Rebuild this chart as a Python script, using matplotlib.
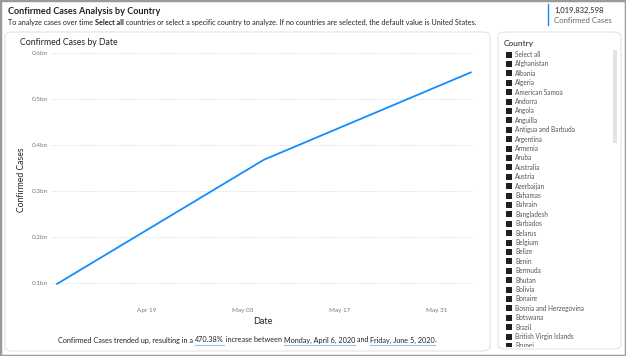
import matplotlib
matplotlib.use("Agg")
import matplotlib.pyplot as plt
import matplotlib.dates as mdates
import numpy as np
from matplotlib.patches import FancyBboxPatch, Rectangle
from matplotlib.lines import Line2D

plt.rcParams["font.family"] = ["Lato", "DejaVu Sans"]

# data
dates = np.array(["2020-04-06", "2020-05-06", "2020-06-05"], dtype="datetime64[D]")
cases_bn = [0.0978, 0.368, 0.558]
y_ticks = [0.1, 0.2, 0.3, 0.4, 0.5, 0.6]
x_ticks = np.array(["2020-04-19", "2020-05-03", "2020-05-17", "2020-05-31"], dtype="datetime64[D]")
total_cases = "1,019,832,598"
countries = [
    "Select all", "Afghanistan", "Albania", "Algeria", "American Samoa", "Andorra",
    "Angola", "Anguilla", "Antigua and Barbuda", "Argentina", "Armenia", "Aruba",
    "Australia", "Austria", "Azerbaijan", "Bahamas", "Bahrain", "Bangladesh",
    "Barbados", "Belarus", "Belgium", "Belize", "Benin", "Bermuda", "Bhutan",
    "Bolivia", "Bonaire", "Bosnia and Herzegovina", "Botswana", "Brazil",
    "British Virgin Islands", "Brunei",
]
pct_increase = 470.38

W, H = 626, 356
BLUE = "#118DFF"


def fx(x):
    return x / W


def fy(y):
    return 1 - y / H


fig = plt.figure(figsize=(W / 100, H / 100), dpi=100)
fig.patch.set_facecolor("white")

# outer frame
fig.add_artist(Rectangle((0, 0), 1, 1, transform=fig.transFigure, fill=False,
                         edgecolor="#9a9a9a", linewidth=2.5, zorder=-5))


def card(x0, y0, x1, y1):
    fig.add_artist(FancyBboxPatch((fx(x0), fy(y1)), fx(x1) - fx(x0), fy(y0) - fy(y1),
                                  boxstyle="round,pad=0,rounding_size=0.012",
                                  transform=fig.transFigure, facecolor="white",
                                  edgecolor="#e4e4e4", linewidth=0.8, zorder=-5))


card(5, 32, 490, 351)
card(498, 32, 621, 349)

renderer = fig.canvas.get_renderer()


def rich_text(x, y, parts, size, color, underline_color=None):
    # draw a row of text pieces one after another, returns end x in pixels
    cur = x
    for txt, weight, under in parts:
        t = fig.text(fx(cur), fy(y), txt, fontsize=size, color=color,
                     fontweight=weight, va="center", ha="left")
        bb = t.get_window_extent(renderer)
        if under:
            fig.add_artist(Line2D([fx(cur), fx(cur + bb.width)], [fy(y + 5), fy(y + 5)],
                                  transform=fig.transFigure, color=underline_color,
                                  linewidth=0.8))
        cur += bb.width
    return cur


# header
fig.text(fx(8), fy(12), "Confirmed Cases Analysis by Country", fontsize=6.6,
         fontweight="bold", color="#252423", va="center")
rich_text(8, 22.5, [("To analyze cases over time ", "normal", False),
                    ("Select all", "bold", False),
                    (" countries or select a specific country to analyze. If no countries are "
                     "selected, the default value is United States.", "normal", False)],
          5.25, "#252423")

# KPI
fig.add_artist(Line2D([fx(548), fx(548)], [fy(4), fy(24.5)], transform=fig.transFigure,
                      color=BLUE, linewidth=1.0))
fig.text(fx(554), fy(10.5), total_cases, fontsize=5.5, color="#252423", va="center")
fig.text(fx(554), fy(20.5), "Confirmed Cases", fontsize=5.6, color="#666666", va="center")

# line chart
fig.text(fx(20), fy(42.5), "Confirmed Cases by Date", fontsize=6.3, color="#252423", va="center")
ax = fig.add_axes([fx(52), fy(300), fx(473) - fx(52), fy(53) - fy(300)])
ax.plot(dates, cases_bn, color=BLUE, linewidth=1.3, solid_capstyle="round")
ax.set_xlim(dates[0] - np.timedelta64(17, "h"), dates[-1] + np.timedelta64(7, "h"))
ax.set_ylim(0.063, 0.6)
ax.set_yticks(y_ticks)
ax.set_yticklabels([f"{v:.1f}bn" for v in y_ticks])
ax.set_xticks(x_ticks)
ax.xaxis.set_major_formatter(mdates.DateFormatter("%b %d"))
ax.grid(axis="y", color="#c8c8c8", linestyle=(0, (1, 2)), linewidth=0.6)
ax.set_axisbelow(True)
for s in ax.spines.values():
    s.set_visible(False)
ax.tick_params(length=0, labelsize=4.6, labelcolor="#777777")
ax.tick_params(axis="x", pad=6)
ax.tick_params(axis="y", pad=3)
ax.patch.set_alpha(0)

fig.text(fx(22), fy(180), "Confirmed Cases", rotation=90, fontsize=6.2, color="#252423",
         va="center", ha="center")
fig.text(fx(263), fy(322), "Date", fontsize=6.5, color="#252423", va="center", ha="center")

# narrative text, centered in the chart card
parts = [("Confirmed Cases trended up, resulting in a ", "normal", False),
         (f"{pct_increase:.2f}%", "normal", True),
         (" increase between ", "normal", False),
         ("Monday, April 6, 2020", "normal", True),
         (" and ", "normal", False),
         ("Friday, June 5, 2020", "normal", True),
         (".", "normal", False)]
probe = fig.text(0, 0, "".join(p[0] for p in parts), fontsize=5.2)
total_w = probe.get_window_extent(renderer).width
probe.remove()
rich_text(247.5 - total_w / 2, 340, parts, 5.2, "#252423", underline_color="#8cc4f5")

# country slicer
fig.text(fx(504), fy(43.5), "Country", fontsize=6.0, color="#252423", va="center")
sl = fig.add_axes([fx(499), fy(347), fx(620) - fx(499), fy(50) - fy(347)])
sl.set_xlim(499, 620)
sl.set_ylim(347, 50)
sl.axis("off")
for i, name in enumerate(countries):
    yy = 54.5 + i * 9.4
    sl.add_patch(Rectangle((505.5, yy - 3), 6, 6, facecolor="#1f1f1f", edgecolor="none",
                           clip_on=True))
    sl.text(515, yy, name, fontsize=4.7, color="#555555", va="center", ha="left", clip_on=True)
sl.add_patch(Rectangle((613, 49), 3.5, 94, facecolor="#e3e3e3", edgecolor="none"))

fig.savefig("out.png", dpi=100)
